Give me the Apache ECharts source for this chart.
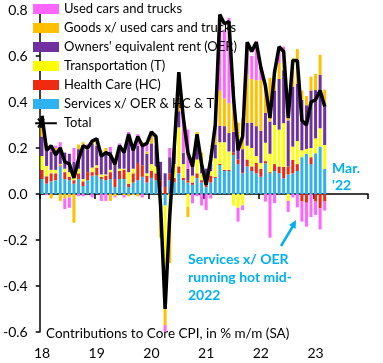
<!DOCTYPE html>
<html><head><meta charset="utf-8">
<script src="https://cdn.jsdelivr.net/npm/echarts@6/dist/echarts.min.js"></script>
<style>html,body{margin:0;padding:0;background:#fff}#c{width:383px;height:363px}</style>
</head><body><div id="c"></div>
<script>
const years = ['2018','2019','2020','2021','2022','2023'];
const months = ['01','02','03','04','05','06','07','08','09','10','11','12'];
const tickLabels = ['18','19','20','21','22','23'];
const categories = [];
years.forEach(y => months.forEach(m => categories.push(y + '-' + m)));

// Services x/ OER & HC & T
const svc = [0.065,0.045,0.055,0.060,0.120,0.065,0.060,0.045,0.065,0.035,0.060,0.080,
  0.080,0.065,0.060,0.065,0.030,0.065,0.065,0.030,0.050,0.060,0.075,0.050,
  0.070,0.060,0.030,-0.050,0.060,0.050,0.090,0.060,0.050,0.040,0.070,0.050,
  0.030,0.050,0.070,0.126,0.100,0.100,0.170,0.130,0.090,0.120,0.100,0.090,
  0.075,0.133,0.090,0.100,0.090,0.068,0.085,0.090,0.100,0.160,0.174,0.130,
  0.177,0.206,0.109];
// Health Care
const hc = [0.040,0.032,0.035,0.030,0.005,0.030,0.015,0.015,0.025,0.020,0.035,0.015,
  0.035,0.010,0.020,0.030,0.035,0.035,0.040,0.015,0.040,0.075,0.050,0.030,
  0.030,0.030,0.030,0.030,0.030,0.020,0.030,0.010,0.010,0.010,0.020,0.010,
  0.010,0.030,0.005,0.005,0.005,0.005,0.010,0.020,0.005,0.030,0.020,0.045,
  0.035,0.010,0.005,0.030,0.030,0.050,0.035,0.058,0.030,-0.033,-0.038,0.030,
  -0.033,-0.062,-0.033];
// Transportation
const trans = [0.060,0.045,0.015,0.015,0.005,0.015,0.020,0.015,0.020,0.010,0.000,0.020,
  0.010,0.010,0.005,0.010,0.000,0.010,0.005,0.050,0.020,0.000,0.000,0.010,
  0.030,0.030,-0.050,-0.450,-0.060,0.060,0.170,0.060,-0.055,0.030,0.060,0.030,
  0.020,0.020,0.080,0.094,0.120,0.080,-0.050,-0.060,-0.050,0.060,0.080,0.030,
  0.025,0.080,0.080,0.170,0.160,0.190,-0.030,0.058,0.100,0.030,0.022,0.040,
  0.065,0.080,0.104];
// Owners' equivalent rent
const oer = [0.085,0.070,0.080,0.085,0.075,0.070,0.080,0.065,0.085,0.145,0.100,0.105,
  0.085,0.090,0.085,0.080,0.085,0.090,0.085,0.140,0.085,0.075,0.090,0.085,
  0.090,0.090,0.080,0.060,0.070,0.060,0.070,0.050,0.050,0.050,0.060,0.050,
  0.050,0.050,0.060,0.072,0.070,0.080,0.090,0.090,0.100,0.100,0.110,0.130,
  0.140,0.130,0.140,0.150,0.220,0.230,0.200,0.260,0.250,0.220,0.190,0.250,
  0.210,0.232,0.170];
// Goods x/ used cars and trucks
const goods = [0.045,0.030,-0.020,0.010,-0.030,-0.020,-0.015,-0.125,0.020,0.015,0.010,0.015,
  0.020,0.015,0.030,-0.030,-0.010,0.010,-0.005,-0.010,-0.005,-0.010,0.010,0.010,
  0.050,0.040,-0.140,-0.070,-0.240,0.010,0.090,0.000,-0.045,0.030,0.060,0.040,
  0.000,0.020,0.040,0.152,0.120,0.130,0.120,0.070,0.130,0.210,0.190,0.200,
  0.220,0.130,0.190,0.090,0.070,0.087,0.110,0.123,0.150,0.040,0.040,0.060,
  0.070,0.087,0.070];
// Used cars and trucks
const used = [0.030,-0.005,0.020,0.010,0.020,-0.045,-0.045,0.060,-0.010,-0.010,0.010,-0.015,
  0.010,-0.030,-0.030,0.020,-0.005,0.010,-0.010,0.035,0.000,0.050,-0.015,0.040,
  0.000,0.000,0.000,-0.030,0.040,0.000,0.080,0.150,0.170,-0.040,-0.010,-0.050,
  -0.070,-0.020,0.050,0.330,0.300,0.370,0.080,-0.060,-0.020,0.130,0.100,0.170,
  0.055,-0.033,-0.190,-0.040,0.060,0.015,-0.048,-0.015,-0.058,-0.087,-0.104,-0.100,
  -0.058,-0.092,-0.039];
// Total core CPI, % m/m
const total = [0.34,0.19,0.21,0.17,0.20,0.14,0.13,0.07,0.15,0.21,0.20,0.23,
  0.24,0.165,0.18,0.17,0.13,0.21,0.18,0.26,0.19,0.25,0.21,0.22,
  0.27,0.25,-0.05,-0.50,-0.10,0.20,0.53,0.33,0.18,0.12,0.26,0.13,
  0.04,0.15,0.30,0.78,0.74,0.75,0.42,0.19,0.25,0.66,0.62,0.66,
  0.55,0.47,0.33,0.53,0.64,0.62,0.33,0.58,0.58,0.32,0.30,0.40,
  0.41,0.45,0.38];

const FONT = 'Lato';
const BLUE_TXT = '#00B0F0';
const chart = echarts.init(document.getElementById('c'), null, {renderer: 'canvas'});

function bar(name, data, color) {
  return {name, type: 'bar', stack: 'c', data, xAxisIndex: 0, yAxisIndex: 0,
    barCategoryGap: '34%', itemStyle: {color}, emphasis: {disabled: true}, z: 2};
}
const yearTick = (i) => i % 12 === 0;

const totalIcon = 'path://M0,5L26,5L26,7.5L0,7.5Z M6,0L8,0L8,12L6,12Z M2.5,1.5L4,0L11.5,10.5L10,12Z M10,0L11.5,1.5L4,12L2.5,10.5Z';

chart.setOption({
  animation: false,
  textStyle: {fontFamily: FONT},
  grid: {left: 39, right: 15, top: 10, bottom: 31, containLabel: false},
  legend: {
    orient: 'vertical', left: 33, top: 2, padding: 0,
    itemWidth: 26, itemHeight: 10, itemGap: 5,
    textStyle: {fontFamily: FONT, fontSize: 13, color: '#000', lineHeight: 14},
    selectedMode: false,
    data: [
      {name: 'Used cars and trucks', icon: 'rect'},
      {name: 'Goods x/ used cars and trucks', icon: 'rect'},
      {name: "Owners' equivalent rent (OER)", icon: 'rect'},
      {name: 'Transportation (T)', icon: 'rect'},
      {name: 'Health Care (HC)', icon: 'rect'},
      {name: 'Services x/ OER & HC & T', icon: 'rect'},
      {name: 'Total', icon: totalIcon}
    ]
  },
  xAxis: [
    {type: 'category', data: categories, boundaryGap: true,
     axisLine: {onZero: true, lineStyle: {color: '#000', width: 1.5}},
     axisTick: {show: true, interval: (i) => yearTick(i), length: 5, lineStyle: {color: '#000', width: 1.5}},
     axisLabel: {show: false}, splitLine: {show: false}},
    {type: 'category', data: categories, boundaryGap: true, position: 'bottom',
     axisLine: {show: false, onZero: false}, axisTick: {show: false}, splitLine: {show: false},
     axisLabel: {interval: (i) => yearTick(i), margin: 14, fontSize: 14, color: '#000', fontFamily: FONT,
       formatter: (v, i) => tickLabels[Math.floor(i / 12)]}}
  ],
  yAxis: {
    type: 'value', min: -0.6, max: 0.8, interval: 0.2,
    axisLine: {show: true, lineStyle: {color: '#000', width: 1.5}},
    axisTick: {show: true, length: 4, lineStyle: {color: '#000', width: 1.5}},
    splitLine: {show: false},
    axisLabel: {fontSize: 14, color: '#000', margin: 12, fontFamily: FONT,
      formatter: (v) => (Math.abs(v) < 1e-9 ? 0 : v).toFixed(1)}
  },
  series: [
    bar('Services x/ OER & HC & T', svc, '#2FB2EE'),
    bar('Health Care (HC)', hc, '#EE2A10'),
    bar('Transportation (T)', trans, '#FFFF00'),
    bar("Owners' equivalent rent (OER)", oer, '#7030A0'),
    bar('Goods x/ used cars and trucks', goods, '#FFC000'),
    bar('Used cars and trucks', used, '#FF66FF'),
    {name: 'Total', type: 'line', data: total, xAxisIndex: 0, yAxisIndex: 0, symbol: 'none',
     z: 5, color: '#000', lineStyle: {color: '#000', width: 3.5}, emphasis: {disabled: true}}
  ],
  graphic: [
    {type: 'text', left: 46, top: 327, style: {text: 'Contributions to Core CPI, in % m/m (SA)', fontFamily: FONT, fontSize: 13.5, fill: '#000'}},
    {type: 'text', left: 332, top: 160, style: {text: 'Mar.\n\'22', fontFamily: FONT, fontSize: 14, fontWeight: 'bold', fill: BLUE_TXT, lineHeight: 17}},
    {type: 'text', left: 188, top: 250, style: {text: 'Services x/ OER\nrunning hot mid-\n2022', fontFamily: FONT, fontSize: 14, fontWeight: 'bold', fill: BLUE_TXT, lineHeight: 18}},
    {type: 'line', shape: {x1: 281, y1: 246, x2: 293, y2: 226}, style: {stroke: BLUE_TXT, lineWidth: 2.5}},
    {type: 'polygon', shape: {points: [[296, 220], [295.6, 229], [289, 225]]}, style: {fill: BLUE_TXT}}
  ]
});
</script></body></html>
